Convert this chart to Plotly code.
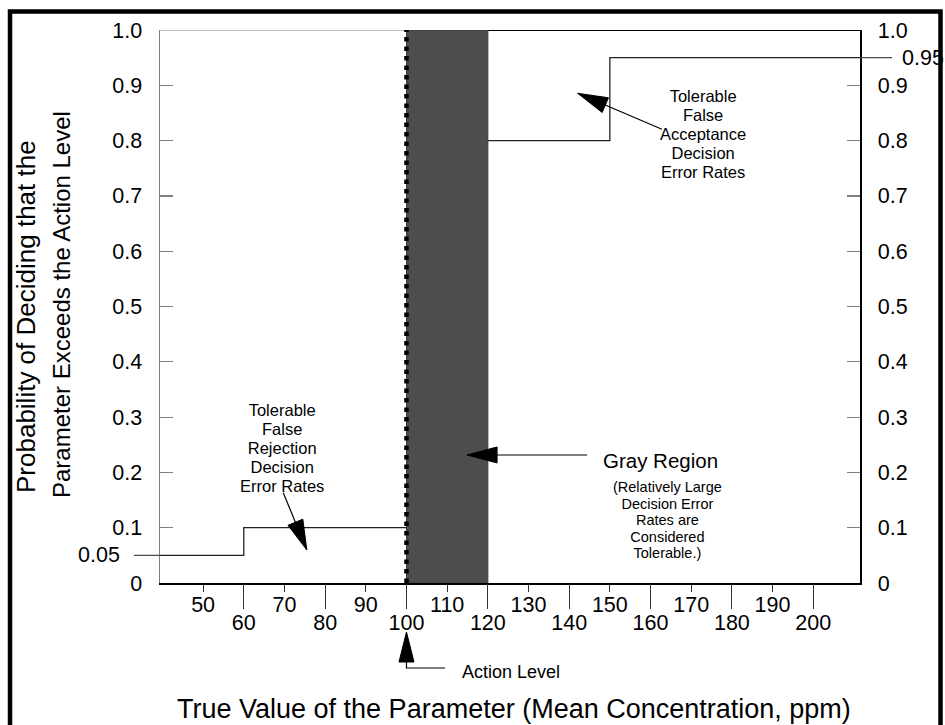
import math
import plotly.graph_objects as go

FONT = "Liberation Sans, Arial, Helvetica, sans-serif"

# ---------------- data ----------------
x_range = [39.4, 211.5]
y_range = [0.0, 1.0]

odd_ticks = [50, 70, 90, 110, 130, 150, 170, 190]
even_ticks = [60, 80, 100, 120, 140, 160, 180, 200]
y_ticks = [0, 0.1, 0.2, 0.3, 0.4, 0.5, 0.6, 0.7, 0.8, 0.9, 1.0]
y_ticktext = ["0", "0.1", "0.2", "0.3", "0.4", "0.5", "0.6", "0.7", "0.8", "0.9", "1.0"]

action_level = 100
gray_region = [100, 120]

# tolerable false rejection step (below the action level)
fr_step_x = [x_range[0], 60, 100]
fr_step_y = [0.05, 0.10, 0.10]
# tolerable false acceptance step (above the gray region)
fa_step_x = [120, 150, x_range[1]]
fa_step_y = [0.80, 0.95, 0.95]

fr_label_value = 0.05
fa_label_value = 0.95

# text blocks (lines, centre x, centre y in data units)
fa_lines = ["Tolerable", "False", "Acceptance", "Decision", "Error Rates"]
fa_xy = [172.9, 0.8119]

fr_lines = ["Tolerable", "False", "Rejection", "Decision", "Error Rates"]
fr_xy = [69.35, 0.2436]

gray_title = "Gray Region"
gray_title_xy = [162.4, 0.2224]
gray_lines = ["(Relatively Large", "Decision Error", "Rates are", "Considered", "Tolerable.)"]
gray_xy = [164.2, 0.1139]

# arrows: (tip, tail) in data units
arrow_fa = [(142.1, 0.8855), (162.8, 0.8204)]
arrow_fr = [(75.5, 0.0597), (69.7, 0.1633)]
arrow_gray = [(114.9, 0.2315), (144.4, 0.2315)]

x_title = "True Value of the Parameter (Mean Concentration, ppm)"
y_title_lines = ["Probability of Deciding that the", "Parameter Exceeds the Action Level"]

# ---------------- layout geometry ----------------
W, H = 945, 725
ML, MR, MT, MB = 160, 85, 30, 142
PW, PH = W - ML - MR, H - MT - MB


def px_x(px):
    return (px - ML) / PW


def px_y(py):
    return (MT + PH - py) / PH


KX = PW / (x_range[1] - x_range[0])
KY = PH / (y_range[1] - y_range[0])


def head_path(tip, tail, length=30, half=8, kx=KX, ky=KY):
    dx = (tail[0] - tip[0]) * kx
    dy = (tail[1] - tip[1]) * ky
    d = math.hypot(dx, dy)
    ux, uy = dx / d, dy / d
    bx, by = ux * length, uy * length
    nx, ny = -uy * half, ux * half
    c1 = (tip[0] + (bx + nx) / kx, tip[1] + (by + ny) / ky)
    c2 = (tip[0] + (bx - nx) / kx, tip[1] + (by - ny) / ky)
    return f"M {tip[0]},{tip[1]} L {c1[0]},{c1[1]} L {c2[0]},{c2[1]} Z"


fig = go.Figure()

fig.add_trace(go.Scatter(x=fr_step_x, y=fr_step_y, mode="lines", line_shape="hv",
                         line=dict(color="#222222", width=1.3), hoverinfo="skip", showlegend=False))
fig.add_trace(go.Scatter(x=fa_step_x, y=fa_step_y, mode="lines", line_shape="hv",
                         line=dict(color="#222222", width=1.3), hoverinfo="skip", showlegend=False))
# invisible trace so the secondary axes are built
fig.add_trace(go.Scatter(x=[x_range[0]], y=[0], xaxis="x2", yaxis="y2", mode="markers",
                         marker=dict(opacity=0), hoverinfo="skip", showlegend=False))

shapes = []
# gray region
shapes.append(dict(type="rect", xref="x", yref="y", x0=gray_region[0], x1=gray_region[1], y0=0, y1=1,
                   fillcolor="#4d4d4d", line=dict(color="#3a3a3a", width=1), layer="below"))
# top edge lines
shapes.append(dict(type="line", xref="x", yref="y", x0=x_range[0], x1=gray_region[0], y0=1, y1=1,
                   line=dict(color="#808080", width=1.2)))
shapes.append(dict(type="line", xref="x", yref="y", x0=gray_region[1], x1=x_range[1], y0=1, y1=1,
                   line=dict(color="black", width=2)))
# action level dotted line
shapes.append(dict(type="line", xref="x", yref="y", x0=action_level, x1=action_level, y0=0, y1=1,
                   line=dict(color="black", width=4.5, dash="4.5px,5px")))
# extensions of the step lines beyond the axes
shapes.append(dict(type="line", xref="paper", yref="y", x0=px_x(134), x1=0, y0=fr_label_value,
                   y1=fr_label_value, line=dict(color="#444444", width=1.2)))
shapes.append(dict(type="line", xref="paper", yref="y", x0=1, x1=px_x(892), y0=fa_label_value,
                   y1=fa_label_value, line=dict(color="#444444", width=1.2)))
# arrows inside the plot
for tip, tail in (arrow_fa, arrow_fr, arrow_gray):
    shapes.append(dict(type="line", xref="x", yref="y", x0=tail[0], y0=tail[1], x1=tip[0], y1=tip[1],
                       line=dict(color="black", width=1.2)))
    shapes.append(dict(type="path", xref="x", yref="y", path=head_path(tip, tail),
                       fillcolor="black", line=dict(color="black", width=1)))
# action level arrow below the axis
al_tip = (action_level, px_y(632))
al_tail = (action_level, px_y(668))
al_end_x = 109.5
shapes.append(dict(type="path", xref="x", yref="paper",
                   path=head_path(al_tip, al_tail, length=30, half=7.5, kx=KX, ky=PH),
                   fillcolor="black", line=dict(color="black", width=1)))
shapes.append(dict(type="path", xref="x", yref="paper",
                   path=f"M {al_tip[0]},{px_y(660)} L {al_tail[0]},{al_tail[1]} L {al_end_x},{al_tail[1]}",
                   line=dict(color="black", width=1.2)))
# outer frame
shapes.append(dict(type="rect", xref="paper", yref="paper", x0=px_x(10), x1=px_x(940.5),
                   y0=px_y(780), y1=px_y(11.5), line=dict(color="black", width=4.5)))


def ann(x, y, text, size, xref="x", yref="y", xanchor="center", yanchor="middle", angle=0):
    return dict(x=x, y=y, xref=xref, yref=yref, text=text, showarrow=False, xanchor=xanchor,
                yanchor=yanchor, textangle=angle, align="center",
                font=dict(size=size, color="black", family=FONT))


def tight_block(lines, glyph_size, line_gap):
    # base font size sets the line pitch (1.3 em); the spans carry the visible glyph size
    base = line_gap / 1.3
    body = "<br>".join(f'<span style="font-size:{glyph_size}px">{t}</span>' for t in lines)
    return body, base


annotations = []
txt, base = tight_block(fa_lines, 16.5, 19)
annotations.append(ann(fa_xy[0], fa_xy[1], txt, base))
txt, base = tight_block(fr_lines, 16.5, 19)
annotations.append(ann(fr_xy[0], fr_xy[1], txt, base))
annotations.append(ann(gray_title_xy[0], gray_title_xy[1], gray_title, 20.5))
txt, base = tight_block(gray_lines, 14.5, 16.6)
annotations.append(ann(gray_xy[0], gray_xy[1], txt, base))
annotations.append(ann(px_x(122), fr_label_value, str(fr_label_value), 21.5, xref="paper", xanchor="right"))
annotations.append(ann(px_x(900), fa_label_value, str(fa_label_value), 21.5, xref="paper", xanchor="left"))
annotations.append(ann(113.2, px_y(672), "Action Level", 18, yref="paper", xanchor="left"))
annotations.append(ann(px_x(514), px_y(709), x_title, 27, xref="paper", yref="paper"))
annotations.append(ann(px_x(26), px_y(317), y_title_lines[0], 26, xref="paper", yref="paper", angle=-90))
annotations.append(ann(px_x(61), px_y(305), y_title_lines[1], 24, xref="paper", yref="paper", angle=-90))

tickfont = dict(size=21.5, color="black", family=FONT)

fig.update_layout(
    width=W, height=H,
    margin=dict(l=ML, r=MR, t=MT, b=MB),
    paper_bgcolor="white", plot_bgcolor="white",
    showlegend=False,
    xaxis=dict(range=x_range, tickvals=odd_ticks, ticktext=[str(v) for v in odd_ticks],
               ticks="outside", ticklen=7, tickwidth=1.2, tickcolor="#333333",
               showline=True, linecolor="black", linewidth=1.5, showgrid=False, zeroline=False,
               tickfont=tickfont, ticklabelstandoff=-5, fixedrange=True),
    xaxis2=dict(range=x_range, overlaying="x", anchor="y", side="bottom",
                tickvals=even_ticks, ticktext=[str(v) for v in even_ticks],
                ticks="outside", ticklen=25, tickwidth=1.2, tickcolor="#333333",
                showline=False, showgrid=False, zeroline=False, tickfont=tickfont,
                ticklabelstandoff=-5, fixedrange=True),
    yaxis=dict(range=y_range, tickvals=y_ticks, ticktext=y_ticktext, ticks="inside", ticklen=13,
               tickwidth=1.2, tickcolor="#808080", showline=True, linecolor="#808080", linewidth=1.5,
               showgrid=False, zeroline=False, tickfont=tickfont, ticklabelstandoff=12, fixedrange=True),
    yaxis2=dict(range=y_range, overlaying="y", anchor="x", side="right", tickvals=y_ticks,
                ticktext=y_ticktext, ticks="inside", ticklen=13, tickwidth=1.2, tickcolor="#808080",
                showline=True, linecolor="black", linewidth=1.5, showgrid=False, zeroline=False,
                tickfont=tickfont, ticklabelstandoff=12, fixedrange=True),
    shapes=shapes,
    annotations=annotations,
)

fig.write_html("out.html", config={"displayModeBar": False, "staticPlot": True},
               post_script="document.body.style.margin='0';document.body.style.overflow='hidden';")
